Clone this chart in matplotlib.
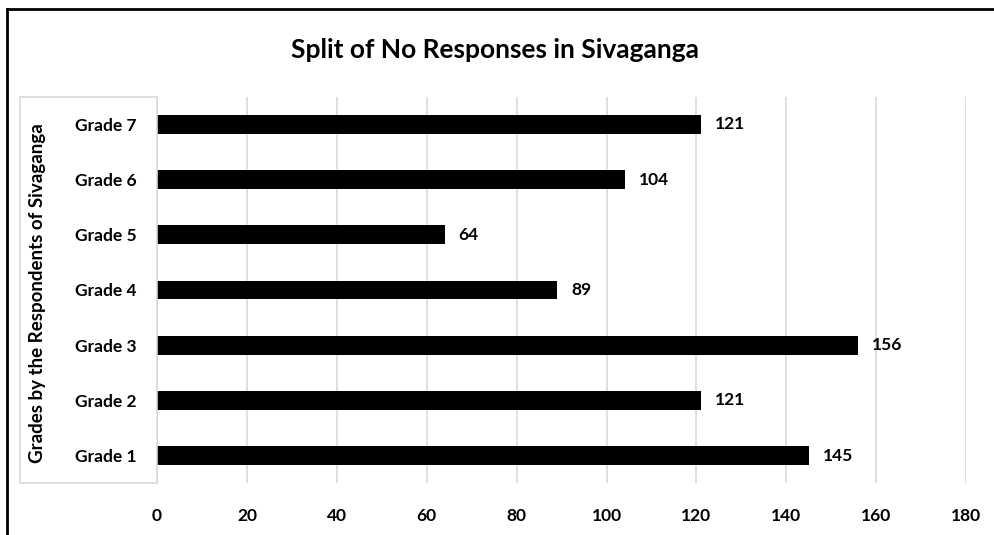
import matplotlib.pyplot as plt
from matplotlib.patches import Rectangle
from matplotlib.lines import Line2D

grades = ["Grade 1", "Grade 2", "Grade 3", "Grade 4", "Grade 5", "Grade 6", "Grade 7"]
no_responses = [145, 121, 156, 89, 64, 104, 121]
x_ticks = [0, 20, 40, 60, 80, 100, 120, 140, 160, 180]

plt.rcParams['font.family'] = ['Lato', 'DejaVu Sans']

fig = plt.figure(figsize=(9.94, 5.35), dpi=100)
ax = fig.add_axes([0.158, 0.097, 0.814, 0.722])

ax.barh(range(len(grades)), no_responses, height=0.34, color='black')
for i, v in enumerate(no_responses):
    ax.annotate(str(v), (v, i), xytext=(10, 0), textcoords='offset points',
                va='center', ha='left', fontsize=12.5, fontweight='bold')

ax.set_xlim(0, 180)
ax.set_ylim(-0.5, 6.5)
ax.set_xticks(x_ticks)
ax.set_yticks(range(len(grades)))
ax.set_yticklabels(grades)
ax.tick_params(axis='both', length=0, labelsize=12.5)
ax.tick_params(axis='x', pad=18)
ax.tick_params(axis='y', pad=15)
for lab in ax.get_xticklabels() + ax.get_yticklabels():
    lab.set_fontweight('bold')
ax.grid(axis='x', color='#d9d9d9', linewidth=1.2)
ax.set_axisbelow(True)
for s in ax.spines.values():
    s.set_visible(False)

# box around the axis title / category labels
fig.patches.append(Rectangle((20 / 994, 1 - 483 / 535), 137 / 994, 386 / 535,
                             transform=fig.transFigure, fill=False,
                             edgecolor='#d9d9d9', linewidth=1.2))
fig.text(38 / 994, 1 - 293 / 535, "Grades by the Respondents of Sivaganga",
         rotation=90, ha='center', va='center', fontsize=13.5, fontweight='bold')

fig.text(0.498, 1 - 50 / 535, "Split of No Responses in Sivaganga",
         ha='center', va='center', fontsize=19, fontweight='bold')

# outer frame (left and top edges visible)
fig.lines.append(Line2D([7 / 994, 7 / 994], [0, 1 - 9 / 535], transform=fig.transFigure,
                        color='black', linewidth=2))
fig.lines.append(Line2D([7 / 994, 1], [1 - 9 / 535, 1 - 9 / 535], transform=fig.transFigure,
                        color='black', linewidth=2))

fig.savefig("out.png", dpi=100)
